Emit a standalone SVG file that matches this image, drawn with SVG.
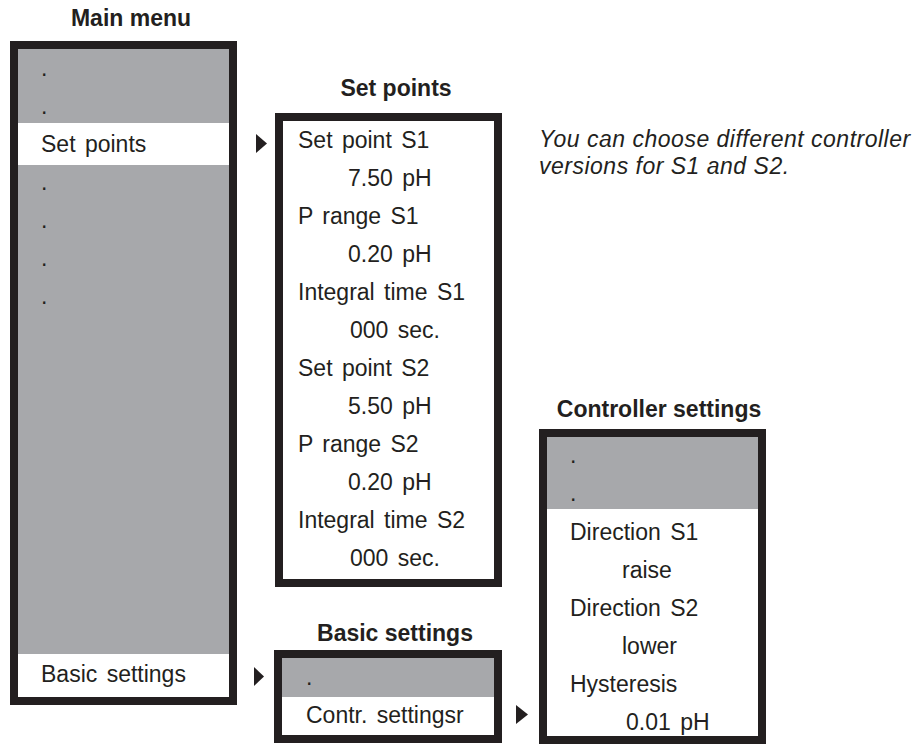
<svg xmlns="http://www.w3.org/2000/svg" width="916" height="747" viewBox="0 0 916 747">
<style>
text{font-family:"Liberation Sans",Arial,Helvetica,sans-serif;fill:#231f20}
.t{font-size:23px;word-spacing:3px}
.h{font-size:23px;font-weight:bold;text-anchor:middle}
.n{font-size:23px;font-style:italic;letter-spacing:0.5px}
.frame{fill:none;stroke:#231f20;stroke-width:8}
.grey{fill:#a7a8ab}
.white{fill:#ffffff}
.arr{fill:#231f20}
</style>
<rect width="916" height="747" fill="#ffffff"/>
<g id="main-menu">
<text class="h" x="131" y="26">Main menu</text>
<rect class="grey" x="18" y="49" width="211" height="648"/>
<rect class="white" x="18" y="123" width="211" height="42"/>
<rect class="white" x="18" y="654" width="211" height="43"/>
<rect class="frame" x="14" y="45" width="219" height="656"/>
<text class="t" x="41" y="76">.</text>
<text class="t" x="41" y="114">.</text>
<text class="t" x="41" y="152">Set points</text>
<text class="t" x="41" y="190">.</text>
<text class="t" x="41" y="228">.</text>
<text class="t" x="41" y="266">.</text>
<text class="t" x="41" y="304">.</text>
<text class="t" x="41" y="682">Basic settings</text>
</g>
<g id="set-points">
<text class="h" x="396" y="96">Set points</text>
<rect class="white" x="283" y="121" width="211" height="458"/>
<rect class="frame" x="279" y="117" width="219" height="466"/>
<text class="t" x="298" y="148">Set point S1</text>
<text class="t" x="348" y="186">7.50 pH</text>
<text class="t" x="298" y="224">P range S1</text>
<text class="t" x="348" y="262">0.20 pH</text>
<text class="t" x="298" y="300">Integral time S1</text>
<text class="t" x="350" y="338">000 sec.</text>
<text class="t" x="298" y="376">Set point S2</text>
<text class="t" x="348" y="414">5.50 pH</text>
<text class="t" x="298" y="452">P range S2</text>
<text class="t" x="348" y="490">0.20 pH</text>
<text class="t" x="298" y="528">Integral time S2</text>
<text class="t" x="350" y="566">000 sec.</text>
</g>
<g id="note">
<text class="n" x="539" y="147">You can choose different controller</text>
<text class="n" x="539" y="174">versions for S1 and S2.</text>
</g>
<g id="basic-settings">
<text class="h" x="395" y="641">Basic settings</text>
<rect class="white" x="282" y="658" width="212" height="78"/>
<rect class="grey" x="282" y="658" width="212" height="39"/>
<rect class="frame" x="278" y="654" width="220" height="85"/>
<text class="t" x="306" y="685">.</text>
<text class="t" x="306" y="723">Contr. settingsr</text>
</g>
<g id="controller-settings">
<text class="h" x="659" y="417">Controller settings</text>
<rect class="white" x="547" y="437" width="211" height="299"/>
<rect class="grey" x="547" y="437" width="211" height="72"/>
<rect class="frame" x="543" y="433" width="219" height="307"/>
<text class="t" x="570" y="463">.</text>
<text class="t" x="570" y="501">.</text>
<text class="t" x="570" y="540">Direction S1</text>
<text class="t" x="622" y="578">raise</text>
<text class="t" x="570" y="616">Direction S2</text>
<text class="t" x="622" y="654">lower</text>
<text class="t" x="570" y="692">Hysteresis</text>
<text class="t" x="626" y="730">0.01 pH</text>
</g>
<g id="connectors">
<polygon class="arr" points="256,134 267,143.5 256,153"/>
<polygon class="arr" points="254,667 264,676.5 254,686"/>
<polygon class="arr" points="516,705 528,714.5 516,724"/>
</g>
</svg>
